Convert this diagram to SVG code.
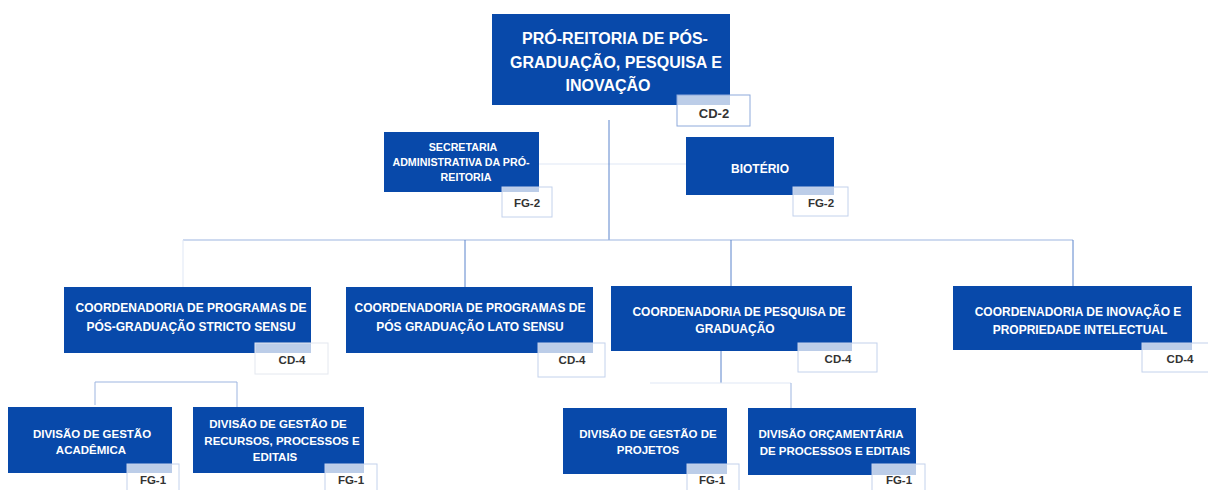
<svg xmlns="http://www.w3.org/2000/svg" width="1208" height="490" viewBox="0 0 1208 490">
<style>
.box{fill:#0849AA}
.tag{fill:#ffffff;fill-opacity:0.73;stroke:#c3d2ec;stroke-width:1}
.t{font-family:"Liberation Sans",Arial,sans-serif;font-weight:bold;fill:#ffffff;text-anchor:middle}
.tg{font-family:"Liberation Sans",Arial,sans-serif;font-weight:bold;fill:#333333;text-anchor:middle;font-size:11.5px}
.c{stroke:#5b84cc;stroke-width:1;fill:none}
.cl{stroke:#9db5e0;stroke-width:1;fill:none}
.cf{stroke:#dfe7f5;stroke-width:1;fill:none}
</style>
<rect width="1208" height="490" fill="#ffffff"/>
<g id="connectors">
<line class="cf" x1="539" y1="164" x2="686" y2="164"/>
<line class="c" x1="609" y1="120" x2="609" y2="240"/>
<line class="cl" x1="183" y1="240" x2="1073" y2="240"/>
<line class="cf" x1="183" y1="240" x2="183" y2="287"/>
<line class="c" x1="465" y1="240" x2="465" y2="287"/>
<line class="c" x1="731" y1="240" x2="731" y2="286"/>
<line class="c" x1="1073" y1="240" x2="1073" y2="286"/>
<polyline class="cl" points="95,405 95,382 237,382 237,407"/>
<line class="c" x1="721" y1="351" x2="721" y2="383"/>
<polyline class="cf" points="650,383 791,383"/>
<line class="cl" x1="791" y1="383" x2="791" y2="408"/>
</g>
<g id="n-proreitoria">
<rect class="box" x="492" y="14" width="238" height="91"/>
<text class="t" font-size="16" x="615" y="44">PRÓ-REITORIA DE PÓS-</text>
<text class="t" font-size="16" x="616" y="67.5">GRADUAÇÃO, PESQUISA E</text>
<text class="t" font-size="16" x="608" y="91">INOVAÇÃO</text>
<rect class="tag" x="677" y="95" width="73" height="31" style="stroke:#8eaadb"/>
<text class="tg" style="font-size:13px" x="714" y="117.5">CD-2</text>
</g>
<g id="n-secretaria">
<rect class="box" x="384" y="132" width="155" height="60"/>
<text class="t" font-size="10.7" x="463" y="151">SECRETARIA</text>
<text class="t" font-size="10.7" x="461" y="166">ADMINISTRATIVA DA PRÓ-</text>
<text class="t" font-size="10.7" x="466" y="181">REITORIA</text>
<rect class="tag" x="502" y="187" width="50" height="30"/>
<text class="tg" x="527" y="207">FG-2</text>
</g>
<g id="n-bioterio">
<rect class="box" x="686" y="137" width="148" height="58"/>
<text class="t" font-size="12" x="760" y="173">BIOTÉRIO</text>
<rect class="tag" x="793" y="187" width="55" height="29"/>
<text class="tg" x="821" y="207">FG-2</text>
</g>
<g id="n-stricto">
<rect class="box" x="64" y="287" width="247" height="66"/>
<text class="t" font-size="12" x="191" y="312">COORDENADORIA DE PROGRAMAS DE</text>
<text class="t" font-size="12" x="191" y="331">PÓS-GRADUAÇÃO STRICTO SENSU</text>
<rect class="tag" x="255" y="343" width="73" height="31" style="stroke:#e4e8ef"/>
<text class="tg" x="292" y="364">CD-4</text>
</g>
<g id="n-lato">
<rect class="box" x="346" y="287" width="247" height="66"/>
<text class="t" font-size="12" x="470" y="312">COORDENADORIA DE PROGRAMAS DE</text>
<text class="t" font-size="12" x="470" y="331">PÓS GRADUAÇÃO LATO SENSU</text>
<rect class="tag" x="538" y="343" width="67" height="34"/>
<text class="tg" x="572" y="364">CD-4</text>
</g>
<g id="n-pesquisa">
<rect class="box" x="611" y="286" width="241" height="65"/>
<text class="t" font-size="12" x="739" y="315.5">COORDENADORIA DE PESQUISA DE</text>
<text class="t" font-size="12" x="735" y="333">GRADUAÇÃO</text>
<rect class="tag" x="798" y="343" width="79" height="29"/>
<text class="tg" x="838" y="363">CD-4</text>
</g>
<g id="n-inovacao">
<rect class="box" x="953" y="286" width="239" height="64"/>
<text class="t" font-size="12" x="1078" y="316">COORDENADORIA DE INOVAÇÃO E</text>
<text class="t" font-size="12" x="1080" y="334">PROPRIEDADE INTELECTUAL</text>
<rect class="tag" x="1142" y="343" width="70" height="29"/>
<text class="tg" x="1180" y="363">CD-4</text>
</g>
<g id="n-academica">
<rect class="box" x="8" y="407" width="164" height="66"/>
<text class="t" font-size="11.5" x="92" y="437.5">DIVISÃO DE GESTÃO</text>
<text class="t" font-size="11.5" x="91" y="454">ACADÊMICA</text>
<rect class="tag" x="127" y="464" width="52" height="30"/>
<text class="tg" x="153" y="484">FG-1</text>
</g>
<g id="n-recursos">
<rect class="box" x="193" y="407" width="171" height="66"/>
<text class="t" font-size="11.5" x="278" y="427.5">DIVISÃO DE GESTÃO DE</text>
<text class="t" font-size="11.5" x="282" y="444.5">RECURSOS, PROCESSOS E</text>
<text class="t" font-size="11.5" x="275" y="461">EDITAIS</text>
<rect class="tag" x="325" y="464" width="52" height="30"/>
<text class="tg" x="351" y="484">FG-1</text>
</g>
<g id="n-projetos">
<rect class="box" x="563" y="408" width="164" height="66"/>
<text class="t" font-size="11.5" x="648" y="437.5">DIVISÃO DE GESTÃO DE</text>
<text class="t" font-size="11.5" x="648" y="454">PROJETOS</text>
<rect class="tag" x="687" y="464" width="52" height="30"/>
<text class="tg" x="712" y="484">FG-1</text>
</g>
<g id="n-orcamentaria">
<rect class="box" x="748" y="408" width="168" height="67"/>
<text class="t" font-size="11.5" x="831" y="437.5">DIVISÃO ORÇAMENTÁRIA</text>
<text class="t" font-size="11.5" x="835" y="454.5">DE PROCESSOS E EDITAIS</text>
<rect class="tag" x="872" y="464" width="53" height="30"/>
<text class="tg" x="899" y="484">FG-1</text>
</g>
</svg>
